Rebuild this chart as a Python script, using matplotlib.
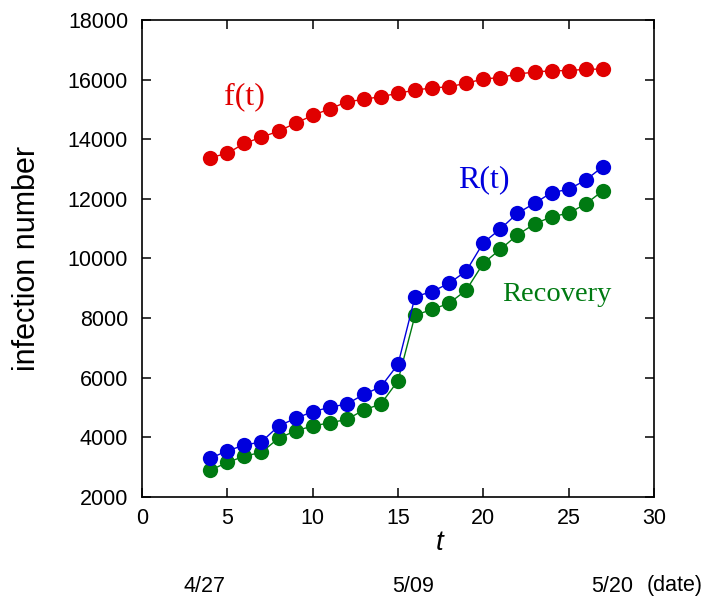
import matplotlib
matplotlib.use("Agg")
import matplotlib.pyplot as plt

# ---------------------------------------------------------------------------
# Data
# ---------------------------------------------------------------------------
t = list(range(4, 28))

f_t = [13380, 13530, 13860, 14070, 14270, 14540, 14800, 15020,
       15250, 15340, 15430, 15540, 15650, 15720, 15760, 15880,
       16020, 16070, 16190, 16250, 16300, 16300, 16350, 16350]

R_t = [3300, 3550, 3740, 3850, 4380, 4640, 4860, 5010,
       5120, 5440, 5700, 6450, 8720, 8890, 9170, 9580,
       10530, 10990, 11520, 11850, 12210, 12320, 12630, 13080]

recovery = [2900, 3160, 3370, 3500, 3970, 4220, 4380, 4490,
            4600, 4920, 5120, 5900, 8100, 8290, 8500, 8940,
            9840, 10310, 10790, 11160, 11400, 11520, 11830, 12270]

date_labels = ["4/27", "5/09", "5/20"]

RED = "#e00000"
BLUE = "#0000dd"
GREEN = "#007a12"

# ---------------------------------------------------------------------------
# Figure
# ---------------------------------------------------------------------------
plt.rcParams["font.family"] = ["Liberation Sans", "DejaVu Sans"]

fig = plt.figure(figsize=(7.09, 6.02), dpi=100)
ax = fig.add_axes([0.2003, 0.1744, 0.7221, 0.7924])

mk = dict(marker="o", markersize=11, lw=1.0, markeredgewidth=0)
ax.plot(t, f_t, color=RED, **mk)
ax.plot(t, recovery, color=GREEN, **mk)
ax.plot(t, R_t, color=BLUE, **mk)

ax.set_xlim(0, 30)
ax.set_ylim(2000, 18000)
ax.set_xticks(range(0, 31, 5))
ax.set_yticks(range(2000, 18001, 2000))

ax.tick_params(direction="in", top=True, right=True, length=6.5,
               width=1.1, labelsize=15.5, colors="black")
ax.tick_params(axis="x", pad=8)
ax.tick_params(axis="y", pad=10)
for sp in ax.spines.values():
    sp.set_linewidth(1.2)

ax.set_ylabel("infection number", fontsize=22)
ax.yaxis.set_label_coords(-0.195, 0.5)
ax.set_xlabel("t", fontsize=20, style="italic")
ax.xaxis.set_label_coords((440 - 142) / 512, -(543 - 497) / 477)
ax.xaxis.label.set_va("center")

serif = ["Liberation Serif", "DejaVu Serif"]
ax.text(6.0, 15420, "f(t)", color=RED, fontsize=23, family=serif,
        ha="center", va="center")
ax.text(20.0, 12640, "R(t)", color=BLUE, fontsize=23, family=serif,
        ha="center", va="center")
ax.text(24.3, 8780, "Recovery", color=GREEN, fontsize=20.5, family=serif,
        ha="center", va="center")

# date annotations under the axis
for x, lab in zip([204, 413, 612], date_labels):
    fig.text(x / 709, 1 - 586 / 602, lab, fontsize=15.5, ha="center", va="center")
fig.text(675 / 709, 1 - 586 / 602, "(date)", fontsize=15.5, ha="center", va="center")

fig.savefig("out.png", dpi=100, facecolor="white")
